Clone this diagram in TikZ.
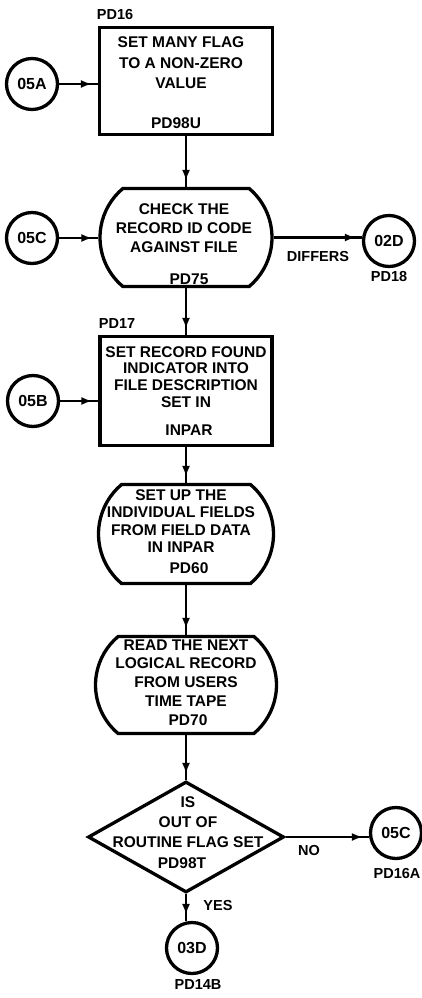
\documentclass[tikz,border=0pt]{standalone}
\usepackage{fontspec}
\setmainfont{Liberation Sans}
\usetikzlibrary{arrows.meta,shapes.misc,shapes.geometric,decorations.markings}

\begin{document}
\begin{tikzpicture}[x=1pt,y=-1pt,
  procbox/.style={draw, rectangle, line width=3.3pt, inner sep=0pt},
  termbox/.style={draw, rounded rectangle, rounded rectangle arc length=100,
                  line width=3.3pt, inner sep=0pt},
  decbox/.style={draw, diamond, line width=3.3pt, inner sep=0pt},
  conn/.style={draw, circle, line width=3.3pt, minimum size=51pt, inner sep=0pt,
               font=\bfseries\fontsize{16}{18}\selectfont},
  txt/.style={align=center, inner sep=0pt, font=\bfseries\fontsize{15.5}{#1}\selectfont},
  tag/.style={inner sep=0pt, font=\bfseries\fontsize{14.5}{16}\selectfont},
  flow/.style={line width=2.8pt, postaction={decorate},
               decoration={markings,
                 mark=at position -6pt with {\arrow{Latex[length=11pt,width=8pt]}}}}
]
\useasboundingbox (0,0) rectangle (422,998);

% main column of blocks
\node[procbox, minimum width=173pt, minimum height=107pt] (b1) at (186,81) {};
\node[termbox, minimum width=172pt, minimum height=98pt] (t2) at (186,237.5) {};
\node[procbox, minimum width=172pt, minimum height=109pt] (b3) at (186,391) {};
\node[termbox, minimum width=175pt, minimum height=99pt] (t4) at (186,534) {};
\node[termbox, minimum width=181pt, minimum height=97pt] (t5) at (186,685) {};
\node[decbox, minimum width=196pt, minimum height=111pt] (d1) at (186,837) {};

% block texts
\node[txt=20.5] (b1txt) at (181,63) {SET MANY FLAG\\TO A NON-ZERO\\VALUE};
\node[txt=16] (b1ref) at (176,123) {PD98U};
\node[txt=19] (t2txt) at (184,228) {CHECK THE\\RECORD ID CODE\\AGAINST FILE};
\node[txt=16] (t2ref) at (189,279) {PD75};
\node[txt=16.7] (b3txt) at (186,377) {SET RECORD FOUND\\INDICATOR INTO\\FILE DESCRIPTION\\SET IN};
\node[txt=16] (b3ref) at (189,430) {INPAR};
\node[txt=17.3] (t4txt) at (181,521) {SET UP THE\\INDIVIDUAL FIELDS\\FROM FIELD DATA\\IN INPAR};
\node[txt=16] (t4ref) at (189,568) {PD60};
\node[txt=18.7] (t5txt) at (186,673) {READ THE NEXT\\LOGICAL RECORD\\FROM USERS\\TIME TAPE};
\node[txt=16] (t5ref) at (188,720) {PD70};
\node[txt=20] (d1txt) at (188,822) {IS\\OUT OF\\ROUTINE FLAG SET};
\node[txt=16] (d1ref) at (182,863) {PD98T};

% off-page connectors
\node[conn] (c05a) at (32,84) {05A};
\node[conn] (c05c) at (32,238) {05C};
\node[conn] (c05b) at (33,401) {05B};
\node[conn] (c02d) at (389,241) {02D};
\node[conn] (c05cx) at (396,833) {05C};
\node[conn] (c03d) at (192,948) {03D};

% reference tags
\node[tag] (l16) at (115,15) {PD16};
\node[tag] (l17) at (117,324) {PD17};
\node[tag] (l18) at (389,277) {PD18};
\node[tag] (ldiff) at (318,257) {DIFFERS};
\node[tag] (lno) at (309,850) {NO};
\node[tag] (l16a) at (397,873) {PD16A};
\node[tag] (lyes) at (218,905) {YES};
\node[tag] (l14b) at (198,984) {PD14B};

% flow lines
\draw[flow] (c05a) -- (c05a -| b1.west);
\draw[flow] (b1) -- (t2);
\draw[flow] (c05c) -- (c05c -| t2.west);
\draw[flow] (t2.east) -- (t2.east -| c02d.west);
\draw[flow] (t2) -- (b3);
\draw[flow] (c05b) -- (c05b -| b3.west);
\draw[flow] (b3) -- (t4);
\draw[flow] (t4) -- (t5);
\draw[flow] (t5) -- (d1);
\draw[flow] (d1.east) -- (d1.east -| c05cx.west);
\draw[flow] (d1.south) -- (d1.south |- c03d.north);
\end{tikzpicture}
\end{document}
